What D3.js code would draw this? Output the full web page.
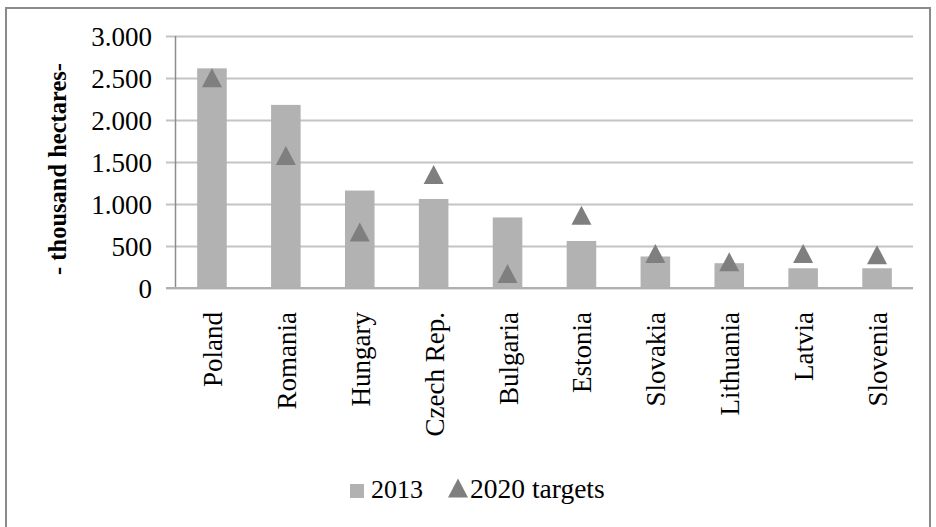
<!DOCTYPE html>
<html>
<head>
<meta charset="utf-8">
<script src="https://cdn.jsdelivr.net/npm/d3@7"></script>
<style>
  html, body { margin: 0; padding: 0; background: #fff; }
  svg { display: block; }
  text { font-family: "Liberation Serif", "Times New Roman", serif; fill: #000; }
</style>
</head>
<body>
<svg id="chart" width="936" height="527"></svg>
<script>
const categories = ["Poland", "Romania", "Hungary", "Czech Rep.", "Bulgaria", "Estonia", "Slovakia", "Lithuania", "Latvia", "Slovenia"];
const values2013 = [2615, 2180, 1160, 1060, 840, 560, 375, 295, 235, 235];
const targets2020 = [2490, 1565, 655, 1340, 160, 855, 400, 300, 400, 385];
const yTicks = [0, 500, 1000, 1500, 2000, 2500, 3000];
const seriesNames = ["2013", "2020 targets"];
const yTitle = "- thousand hectares-";

const svg = d3.select("#chart");
const W = 936, H = 527;

const locale = d3.formatLocale({ decimal: ",", thousands: ".", grouping: [3], currency: ["", ""] });
const fmt = locale.format(",d");

const x = d3.scaleBand().domain(categories).range([175, 914]).paddingInner(0.6).paddingOuter(0.3);
const y = d3.scaleLinear().domain([0, 3000]).range([288, 36]);

const barColor = "#b2b2b2";
const triColor = "#7f7f7f";

// outer frame
svg.append("rect").attr("x", 6).attr("y", 8).attr("width", 924).attr("height", H)
  .attr("fill", "none").attr("stroke", "#8a8a8a").attr("stroke-width", 2);

// gridlines + ticks
const yAxis = d3.axisLeft(y).tickValues(yTicks).tickSize(-(913 - 166)).tickPadding(14).tickFormat(fmt);
const gy = svg.append("g").attr("transform", "translate(166,0)").call(yAxis);
gy.attr("font-family", null);
gy.select(".domain").remove();
gy.selectAll(".tick line").attr("stroke", "#c4c4c4").attr("stroke-width", 2);
gy.selectAll(".tick text").attr("font-size", 27).attr("fill", "#000").attr("dy", "0.36em");

// bars
svg.append("g").selectAll("rect").data(categories).join("rect")
  .attr("x", d => x(d))
  .attr("width", x.bandwidth())
  .attr("y", (d, i) => y(values2013[i]))
  .attr("height", (d, i) => y(0) - y(values2013[i]))
  .attr("fill", barColor);

// vertical axis line
svg.append("line").attr("x1", 175.5).attr("x2", 175.5).attr("y1", y(3000)).attr("y2", y(0))
  .attr("stroke", "#8c8c8c").attr("stroke-width", 1.5);
// baseline
svg.append("line").attr("x1", 166).attr("x2", 913).attr("y1", y(0)).attr("y2", y(0))
  .attr("stroke", "#b0b0b0").attr("stroke-width", 2);

// triangles
const triPath = "M0,-10.5L10,8.5L-10,8.5Z";
svg.append("g").selectAll("path").data(categories).join("path")
  .attr("d", triPath)
  .attr("transform", (d, i) => `translate(${x(d) + x.bandwidth() / 2},${y(targets2020[i])})`)
  .attr("fill", triColor);

// category labels
svg.append("g").selectAll("text").data(categories).join("text")
  .attr("transform", d => `translate(${x(d) + x.bandwidth() / 2 + 10},312) rotate(-90)`)
  .attr("text-anchor", "end")
  .attr("font-size", 27)
  .text(d => d);

// y title
svg.append("text")
  .attr("transform", "translate(66,169) rotate(-90)")
  .attr("text-anchor", "middle")
  .attr("font-size", 24.5)
  .attr("font-weight", "bold")
  .text(yTitle);

// legend
const lg = svg.append("g");
lg.append("rect").attr("x", 350).attr("y", 484).attr("width", 14).attr("height", 14).attr("fill", barColor);
lg.append("text").attr("x", 371).attr("y", 498).attr("font-size", 26).text(seriesNames[0]);
lg.append("path").attr("d", triPath).attr("transform", "translate(458,489)").attr("fill", triColor);
lg.append("text").attr("x", 470).attr("y", 498).attr("font-size", 27.5).text(seriesNames[1]);
</script>
</body>
</html>
